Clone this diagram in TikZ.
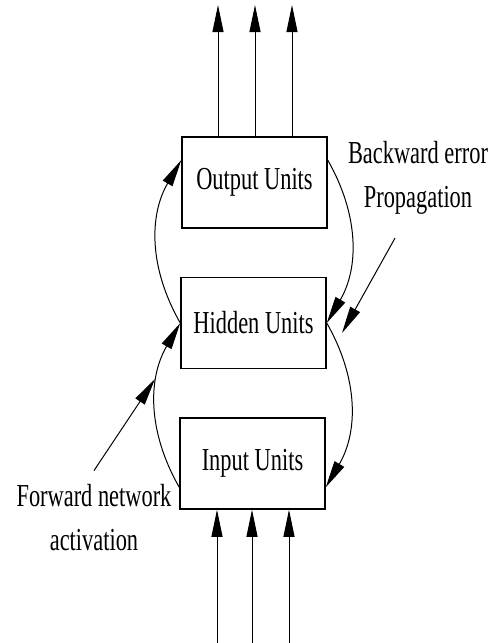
\documentclass[tikz,border=0pt]{standalone}
\usepackage{fontspec}
\setmainfont{Liberation Serif}
\usepackage{graphicx}
\usetikzlibrary{arrows.meta}
\newcommand{\narrow}[1]{\scalebox{0.7}[1]{#1}}

\begin{document}
\begin{tikzpicture}[x=1pt, y=1pt,
  unit/.style={draw, line width=1.5pt, minimum width=145pt, minimum height=91pt, inner sep=0pt, font=\fontsize{32}{38}\selectfont},
  remark/.style={align=center, inner sep=0pt, font=\fontsize{32}{44}\selectfont},
  flow/.style={line width=1pt, -{Triangle[length=27pt, width=11pt]}}]
\useasboundingbox (0,0) rectangle (494,-643);
\node [unit] (output) at (254.5,-182.5) {\narrow{Output Units}};
\node [unit] (hidden) at (253.5,-323) {\narrow{Hidden Units}};
\node [unit] (input) at (252.5,-463.5) {\narrow{Input Units}};
\coordinate (out1) at (218,-5);
\coordinate (out2) at (255,-5);
\coordinate (out3) at (292,-5);
\draw [flow] (out1 |- output.north) -- (out1);
\draw [flow] (out2 |- output.north) -- (out2);
\draw [flow] (out3 |- output.north) -- (out3);
\coordinate (in1) at (217,-643);
\coordinate (in2) at (252,-643);
\coordinate (in3) at (289,-643);
\draw [flow] (in1) -- (in1 |- input.south);
\draw [flow] (in2) -- (in2 |- input.south);
\draw [flow] (in3) -- (in3 |- input.south);
\draw [flow] (input.198) to [bend left=30] (hidden.west);
\draw [flow] (hidden.west) to [bend left=30] (output.163);
\draw [flow] (output.17) to [bend left=30] (hidden.east);
\draw [flow] (hidden.east) to [bend left=30] (input.342);
\node [remark, anchor=base] (backward) at (418,-207) {\narrow{Backward error}\\\narrow{Propagation}};
\node [remark, anchor=base] (forward) at (94,-550) {\narrow{Forward network}\\\narrow{activation}};
\coordinate (bwtip) at (342,-333);
\coordinate (fwtip) at (155,-379);
\draw [flow] ([xshift=-23pt, yshift=-24pt]backward.south) -- (bwtip);
\draw [flow] ([yshift=13pt]forward.north) -- (fwtip);
\end{tikzpicture}
\end{document}
